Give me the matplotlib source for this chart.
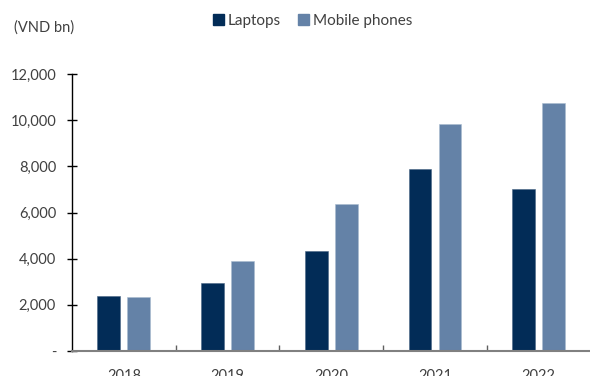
import matplotlib
matplotlib.use("Agg")
import matplotlib.pyplot as plt
import numpy as np
from matplotlib.patches import Patch
from matplotlib.ticker import FuncFormatter

years = ["2018", "2019", "2020", "2021", "2022"]
laptops = [2400, 2950, 4330, 7900, 7000]
mobile_phones = [2350, 3900, 6360, 9850, 10750]

NAVY = "#022c57"
STEEL = "#6482a7"
TEXT = "#404040"

plt.rcParams["font.family"] = ["Lato", "DejaVu Sans"]

fig = plt.figure(figsize=(5.9, 3.76), dpi=100)
ax = fig.add_axes([0.122, 0.0665, 0.879, 0.7365])

x = np.arange(len(years))
w = 0.22
off = 0.144
ax.bar(x - off, laptops, w, color=NAVY, edgecolor="#4a6685", linewidth=0.4)
ax.bar(x + off, mobile_phones, w, color=STEEL, edgecolor="#a9bbd0", linewidth=0.4)

ax.set_xlim(-0.5, len(years) - 0.5)
ax.set_ylim(0, 12000)
ax.set_yticks(range(0, 12001, 2000))
ax.yaxis.set_major_formatter(FuncFormatter(lambda v, _: "-" if v == 0 else f"{int(v):,}"))

# year labels centred, small ticks on the boundaries between years
ax.set_xticks(x)
ax.set_xticklabels(years)
ax.tick_params(axis="x", which="major", length=0, pad=13, labelsize=10.5, colors=TEXT)
ax.set_xticks(x[:-1] + 0.5, minor=True)
ax.tick_params(axis="x", which="minor", direction="in", length=4, width=1, color="#606060")

ax.tick_params(axis="y", direction="inout", length=7, width=1, pad=8,
               labelsize=10.5, colors="black", labelcolor=TEXT)

for s in ("top", "right"):
    ax.spines[s].set_visible(False)
ax.spines["left"].set_color("black")
ax.spines["left"].set_linewidth(1)
ax.spines["bottom"].set_color("#808080")
ax.spines["bottom"].set_linewidth(1.5)

fig.text(0.024, 0.928, "(VND bn)", fontsize=10.5, color=TEXT, va="center")

handles = [Patch(color=NAVY), Patch(color=STEEL)]
fig.legend(handles=handles, labels=["Laptops", "Mobile phones"],
           loc="center", bbox_to_anchor=(0.53, 0.944), ncol=2, frameon=False,
           fontsize=11, handlelength=0.75, handleheight=0.75, handletextpad=0.25,
           columnspacing=1.1, labelcolor=TEXT)

fig.savefig("out.png", dpi=100)
